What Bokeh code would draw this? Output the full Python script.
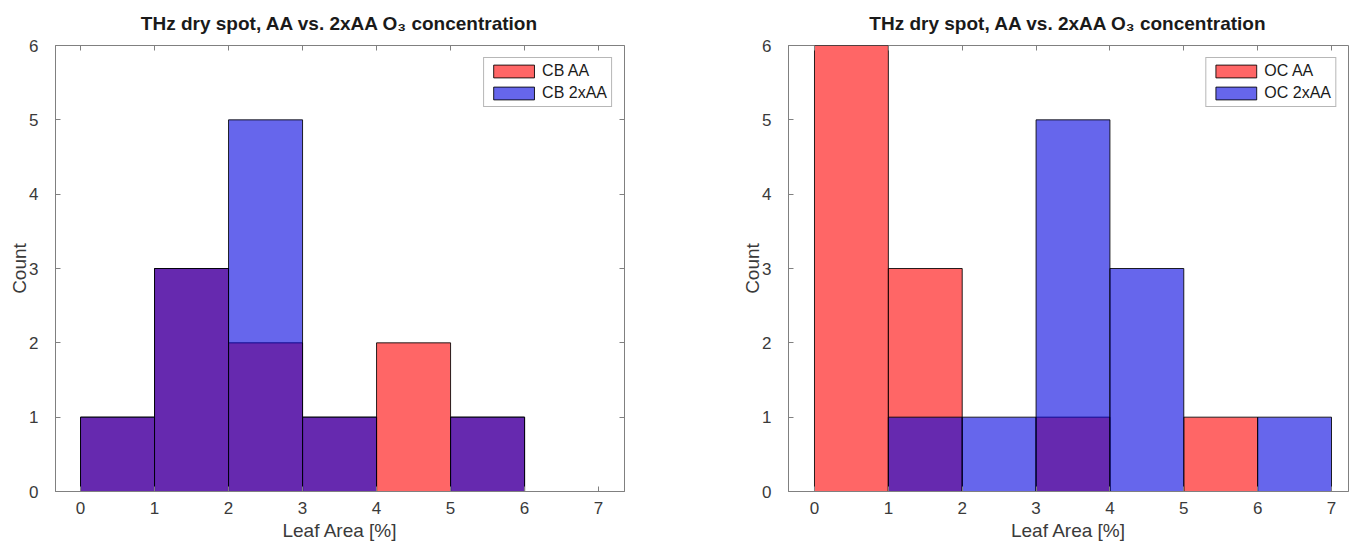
from bokeh.plotting import figure
from bokeh.layouts import row
from bokeh.models import LinearAxis, Range1d, FixedTicker, Legend, LegendItem
from bokeh.embed import file_html
from bokeh.resources import INLINE

# ---- data (histogram counts per 1 %-wide bin) ----
bin_edges = [0, 1, 2, 3, 4, 5, 6, 7]
cb_aa = [1, 3, 2, 1, 2, 1, 0]
cb_2xaa = [1, 3, 5, 1, 0, 1, 0]
oc_aa = [6, 3, 0, 1, 0, 1, 0]
oc_2xaa = [0, 1, 1, 5, 3, 0, 1]
x_ticks = [0, 1, 2, 3, 4, 5, 6, 7]
y_ticks = [0, 1, 2, 3, 4, 5, 6]
title_text = "THz dry spot, AA vs. 2xAA O\u2083 concentration"
x_label = "Leaf Area [%]"
y_label = "Count"
left_names = ["CB AA", "CB 2xAA"]
right_names = ["OC AA", "OC 2xAA"]

FONT = "Liberation Sans"
AX = "#808080"
TXT = "#3a3a3a"
RED = "#ff0000"
BLUE = "#0000e0"


def box_axis(ticks):
    ax = LinearAxis(ticker=FixedTicker(ticks=ticks))
    ax.major_label_text_font_size = "1px"
    ax.major_label_text_color = None
    ax.major_label_standoff = 0
    ax.major_tick_in = 5
    ax.major_tick_out = 0
    ax.minor_tick_line_color = None
    ax.axis_line_color = None
    ax.major_tick_line_color = AX
    return ax


def panel(series, names, xr, width, height, bl, br, bt, bb, right_ticks=True):
    p = figure(width=width, height=height, x_range=Range1d(*xr), y_range=Range1d(0, 6),
               output_backend="svg", toolbar_location=None, title=title_text,
               min_border_left=bl, min_border_right=br, min_border_top=bt,
               min_border_bottom=bb)
    p.grid.visible = False
    p.outline_line_color = AX
    p.outline_line_width = 1
    p.background_fill_color = "white"
    p.border_fill_color = "white"

    p.title.text_font = FONT
    p.title.text_font_size = "19px"
    p.title.text_font_style = "bold"
    p.title.text_color = "#1a1a1a"
    p.title.align = "center"
    p.title.vertical_align = "top"
    p.title.standoff = 20

    items = []
    for counts, name, col in zip(series, names, [RED, BLUE]):
        r = p.quad(left=bin_edges[:-1], right=bin_edges[1:], bottom=0, top=counts,
                   fill_color=col, fill_alpha=0.6, line_color="black",
                   line_width=1, line_alpha=0.85)
        items.append(LegendItem(label=name, renderers=[r]))

    for ax, ticks in ((p.xaxis[0], x_ticks), (p.yaxis[0], y_ticks)):
        ax.ticker = FixedTicker(ticks=ticks)
        ax.major_tick_in = 5
        ax.major_tick_out = 0
        ax.minor_tick_line_color = None
        ax.axis_line_color = AX
        ax.major_tick_line_color = AX
        ax.major_label_text_font = FONT
        ax.major_label_text_font_size = "17px"
        ax.major_label_text_color = TXT
        ax.axis_label_text_font = FONT
        ax.axis_label_text_font_size = "19px"
        ax.axis_label_text_font_style = "normal"
        ax.axis_label_text_color = TXT
    p.xaxis[0].axis_label = x_label
    p.yaxis[0].axis_label = y_label
    p.xaxis[0].major_label_standoff = 10
    p.xaxis[0].axis_label_standoff = 3
    p.yaxis[0].major_label_standoff = 17
    p.yaxis[0].axis_label_standoff = -4

    p.add_layout(box_axis(x_ticks), "above")
    if right_ticks:
        p.add_layout(box_axis(y_ticks), "right")

    leg = Legend(items=items, location="top_right")
    leg.label_text_font = FONT
    leg.label_text_font_size = "16px"
    leg.label_text_color = "#1a1a1a"
    leg.glyph_width = 51
    leg.glyph_height = 16
    leg.label_height = 16
    leg.label_standoff = 3
    leg.spacing = 4
    leg.padding = 4
    leg.margin = 12
    leg.border_line_color = "#707070"
    leg.background_fill_color = "white"
    leg.background_fill_alpha = 1
    p.add_layout(leg, "center")
    return p


H = 543
p1 = panel([cb_aa, cb_2xaa], left_names, (-0.338, 7.35), 664, H, 55, 40, 45, 52)
p2 = panel([oc_aa, oc_2xaa], right_names, (-0.352, 7.23), 686, H, 124, 2, 45, 52,
           right_ticks=False)

layout = row(p1, p2)
open("out.html", "w").write(file_html(layout, INLINE))
